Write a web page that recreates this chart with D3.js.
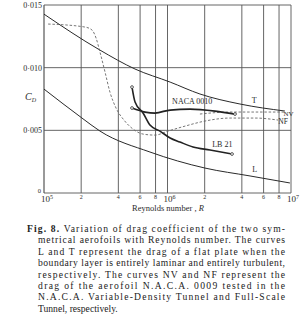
<!DOCTYPE html>
<html>
<head>
<meta charset="utf-8">
<script src="https://cdn.jsdelivr.net/npm/d3@7"></script>
<style>
  body { margin: 0; background: #fff; }
  svg { display: block; font-family: "Liberation Serif", "DejaVu Serif", serif; }
</style>
</head>
<body>
<div id="chart"></div>
<script>
// Reynolds number grid / tick positions and their labels
const reTicks = [1e5, 2e5, 4e5, 6e5, 8e5, 1e6, 2e6, 4e6, 6e6, 8e6, 1e7];
const reTickLabels = ["10^5", "2", "4", "6", "8", "10^6", "2", "4", "6", "8", "10^7"];
const cdTicks = [0, 0.005, 0.010, 0.015];
const cdTickLabels = ["0", "0·005", "0·010", "0·015"];

// curves, [Reynolds number, drag coefficient]
const curveT = [[1e5, 0.01427], [2.84e5, 0.0114], [5.46e5, 0.00989], [1.05e6, 0.00885],
  [1.83e6, 0.0079], [3.86e6, 0.0071], [8.93e6, 0.00654]];
const curveL = [[1e5, 0.00829], [2.03e5, 0.00598], [2.84e5, 0.00494], [7.21e5, 0.00327],
  [2.01e6, 0.00199], [4.66e6, 0.00136], [9.8e6, 0.0008]];
const curveNACA = [[5.16e5, 0.00678], [6.58e5, 0.00646], [7.93e5, 0.00638], [1.05e6, 0.00662],
  [1.52e6, 0.0067], [2.43e6, 0.00654], [3.52e6, 0.0063]];
const curveLB21 = [[5.16e5, 0.00845], [5.46e5, 0.00726], [6.34e5, 0.00638], [7.21e5, 0.00542],
  [8.69e5, 0.00494], [1.05e6, 0.00439], [1.26e6, 0.00407], [1.61e6, 0.00367],
  [2.21e6, 0.00343], [3.33e6, 0.00311]];
const curveNF = [[1.08e5, 0.01348], [2.15e5, 0.01324], [2.45e5, 0.0130], [2.64e5, 0.01236],
  [2.84e5, 0.01124], [3.12e5, 0.00965], [3.42e5, 0.00805], [3.83e5, 0.00678],
  [4.44e5, 0.00582], [5.26e5, 0.0051], [6.34e5, 0.0047], [7.93e5, 0.00462],
  [1.01e6, 0.00494], [1.39e6, 0.00534], [2.01e6, 0.00574], [3.21e6, 0.00598],
  [5.12e6, 0.00598], [7.85e6, 0.00582]];
const curveNV = [[1.83e6, 0.0063], [3.21e6, 0.00646], [5.61e6, 0.00646], [8.93e6, 0.00646]];

const caption = [
  "Fig. 8.  Variation of drag coefficient of the two sym-",
  "metrical aerofoils with Reynolds number.  The curves",
  "L and T represent the drag of a flat plate when the",
  "boundary layer is entirely laminar and entirely turbulent,",
  "respectively.  The curves NV and NF represent the",
  "drag of the aerofoil N.A.C.A. 0009 tested in the",
  "N.A.C.A.  Variable-Density Tunnel and Full-Scale",
  "Tunnel, respectively."
];

const W = 301, H = 314;
const ink = "#2a2a2a";

const svg = d3.select("#chart").append("svg")
  .attr("width", W).attr("height", H);

const x = d3.scaleLog().domain([1e5, 1e7]).range([44, 291]);
const y = d3.scaleLinear().domain([0, 0.015]).range([193, 5]);

// grid
svg.append("g").selectAll("line").data(reTicks).enter().append("line")
  .attr("x1", d => x(d)).attr("x2", d => x(d))
  .attr("y1", y(0)).attr("y2", y(0.015))
  .attr("stroke", "#555").attr("stroke-width", d => d === 1e5 ? 1.2 : 0.9);
svg.append("g").selectAll("line").data(cdTicks).enter().append("line")
  .attr("x1", x(1e5)).attr("x2", x(1e7))
  .attr("y1", d => y(d)).attr("y2", d => y(d))
  .attr("stroke", "#555").attr("stroke-width", 0.9);

// y tick labels
svg.append("g").selectAll("text").data(cdTicks).enter().append("text")
  .attr("x", d => d === 0 ? 41 : 42).attr("y", d => d === 0 ? y(d) : y(d) + 3)
  .attr("text-anchor", "end").attr("font-size", d => d === 0 ? 6.5 : 8).attr("fill", ink)
  .text((d, i) => cdTickLabels[i]);

// x tick labels
const xl = svg.append("g").selectAll("text").data(reTicks).enter().append("text")
  .attr("x", d => x(d)).attr("y", 202)
  .attr("text-anchor", "middle").attr("fill", ink);
xl.each(function (d, i) {
  const t = d3.select(this), lab = reTickLabels[i];
  if (lab.indexOf("^") > -1) {
    const p = lab.split("^");
    t.attr("font-size", 9).attr("dx", d === 1e5 ? 3 : 2);
    t.append("tspan").text(p[0]);
    t.append("tspan").attr("font-size", 6).attr("dy", -3).text(p[1]);
  } else {
    t.attr("font-size", 6).attr("y", 199).text(lab);
  }
});

// axis titles
const cd = svg.append("text").attr("x", 25).attr("y", 100).attr("font-size", 10)
  .attr("fill", ink).attr("font-style", "italic");
cd.append("tspan").text("C");
cd.append("tspan").attr("font-size", 6).attr("dy", 2).text("D");

const rt = svg.append("text").attr("x", 168).attr("y", 211).attr("text-anchor", "middle")
  .attr("font-size", 8.5).attr("fill", ink);
rt.append("tspan").text("Reynolds number , ");
rt.append("tspan").attr("font-style", "italic").text("R");

// curves
const line = d3.line().x(d => x(d[0])).y(d => y(d[1])).curve(d3.curveMonotoneX);

function drawCurve(data, width, dash, color) {
  svg.append("path").datum(data)
    .attr("d", line)
    .attr("fill", "none")
    .attr("stroke", color)
    .attr("stroke-width", width)
    .attr("stroke-dasharray", dash);
}
drawCurve(curveT, 1, null, ink);
drawCurve(curveL, 1, null, ink);
drawCurve(curveNF, 0.9, "2.5,1.8", "#666");
drawCurve(curveNV, 0.9, "2.5,1.8", "#666");
drawCurve(curveNACA, 1.8, null, "#222");
drawCurve(curveLB21, 1.6, null, "#222");

// end dots
const dots = [curveLB21[0], curveLB21[curveLB21.length - 1], curveNACA[0], curveNACA[curveNACA.length - 1]];
svg.append("g").selectAll("circle").data(dots).enter().append("circle")
  .attr("cx", d => x(d[0])).attr("cy", d => y(d[1])).attr("r", 1.4)
  .attr("fill", "#fff").attr("stroke", "#333").attr("stroke-width", 0.8);

// curve labels, placed beside their curves
const labels = [
  { t: "NACA 0010", re: 1.09e6, cd: 0.00712, size: 8 },
  { t: "T", re: 4.8e6, cd: 0.00718, size: 8 },
  { t: "NV", re: 8.7e6, cd: 0.00614, size: 7 },
  { t: "NF", re: 7.9e6, cd: 0.00550, size: 7.5 },
  { t: "LB 21", re: 2.3e6, cd: 0.00367, size: 8 },
  { t: "L", re: 4.85e6, cd: 0.00167, size: 8 }
];
svg.append("g").selectAll("text").data(labels).enter().append("text")
  .attr("x", d => x(d.re)).attr("y", d => y(d.cd))
  .attr("font-size", d => d.size).attr("fill", ink)
  .text(d => d.t);

// caption, justified lines
const cap = svg.append("g").attr("fill", "#222").attr("font-size", 9.6);
caption.forEach((s, i) => {
  const x0 = i === 0 ? 27 : 38;
  const t = cap.append("text").attr("x", x0).attr("y", 232 + i * 11.4);
  if (i === 0) {
    t.append("tspan").attr("font-weight", "bold").text("Fig. 8.");
    t.append("tspan").text(s.slice(7));
  } else {
    t.text(s);
  }
  if (i < caption.length - 1) t.attr("textLength", 285 - x0).attr("lengthAdjust", "spacing");
});
</script>
</body>
</html>
